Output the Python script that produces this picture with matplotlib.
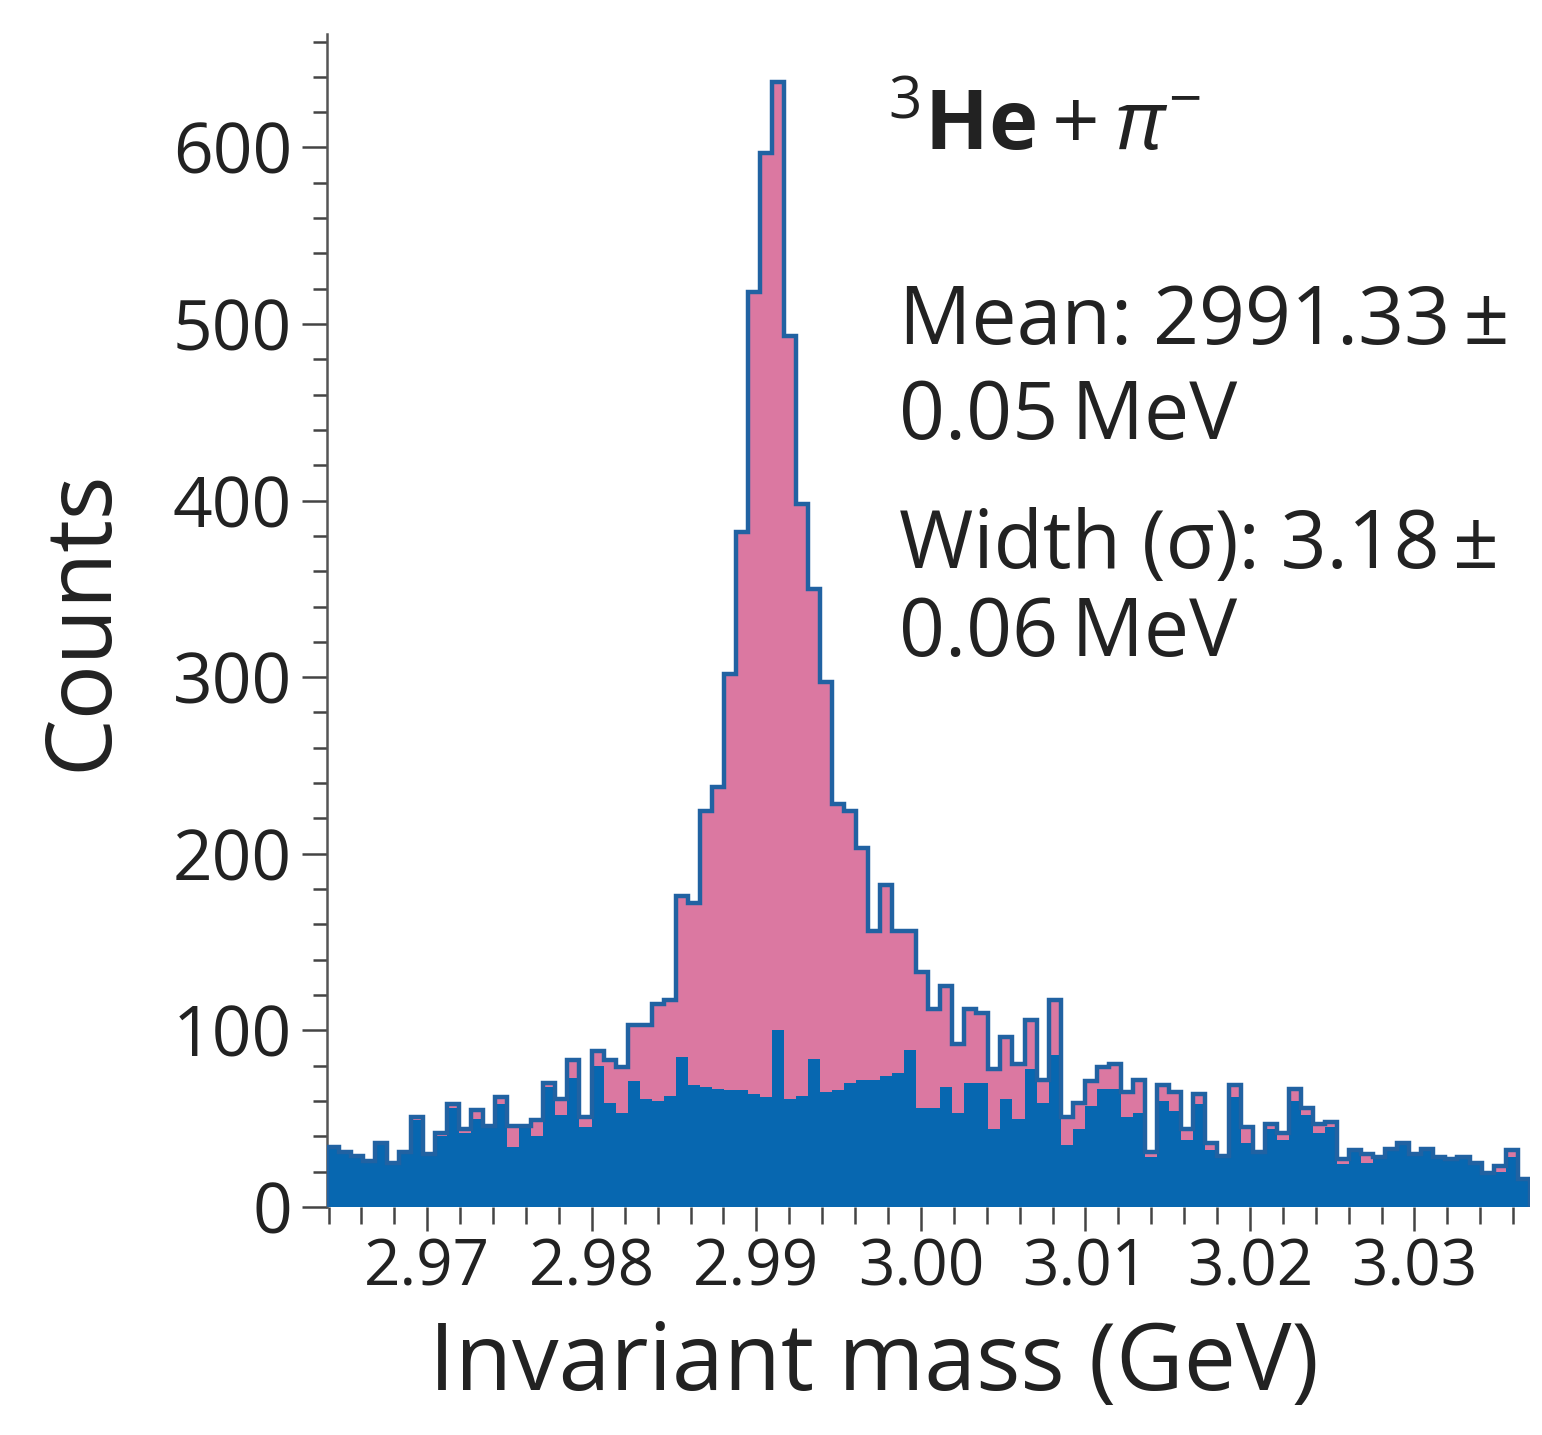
import numpy as np
import matplotlib
matplotlib.use("Agg")
import matplotlib.pyplot as plt
from matplotlib.ticker import MultipleLocator, FormatStrFormatter

plt.rcParams['font.family'] = ['Open Sans', 'DejaVu Sans']
plt.rcParams['mathtext.fontset'] = 'custom'
plt.rcParams['mathtext.rm'] = 'Open Sans'
plt.rcParams['mathtext.it'] = 'Open Sans:italic'
plt.rcParams['mathtext.bf'] = 'Open Sans:bold'

# histogram range (GeV) and 100 bins
mass_lo = 2.9639
mass_hi = 3.0370

# total counts (3He + pi-) per bin
total = [34, 31, 29, 26, 36, 25, 31, 51, 30, 42,
         58, 44, 55, 46, 62, 46, 46, 49, 70, 61,
         83, 51, 88, 83, 79, 103, 103, 115, 117, 176,
         172, 224, 238, 302, 382, 518, 597, 637, 493, 398,
         350, 297, 228, 224, 203, 156, 182, 156, 156, 133,
         112, 125, 92, 112, 110, 78, 96, 81, 106, 72,
         117, 51, 59, 71, 79, 81, 65, 72, 31, 69,
         65, 44, 64, 36, 29, 69, 45, 31, 47, 42,
         67, 56, 47, 48, 27, 32, 30, 28, 33, 36,
         30, 33, 28, 27, 28, 25, 19, 23, 32, 16]

# background counts per bin
background = [33, 30, 28, 26, 35, 24, 30, 49, 29, 40,
              56, 42, 50, 45, 58, 34, 45, 40, 68, 52,
              73, 45, 80, 59, 53, 71, 61, 60, 63, 85,
              69, 68, 67, 66, 66, 64, 62, 100, 61, 63,
              84, 65, 66, 70, 72, 72, 74, 76, 89, 56,
              56, 68, 53, 70, 70, 44, 61, 50, 78, 59,
              86, 35, 44, 57, 67, 67, 51, 53, 28, 60,
              54, 38, 58, 32, 28, 62, 36, 30, 44, 38,
              60, 52, 42, 45, 24, 31, 25, 27, 32, 35,
              29, 32, 27, 26, 27, 24, 18, 20, 28, 15]

xticks = [2.97, 2.98, 2.99, 3.00, 3.01, 3.02, 3.03]
yticks = [0, 100, 200, 300, 400, 500, 600]

pink = '#db78a1'
blue = '#0767b0'
edge = '#2162a2'
ink = '#222222'

edges = np.linspace(mass_lo, mass_hi, len(total) + 1)

fig = plt.figure(figsize=(15.42, 14.35), dpi=100)
ax = fig.add_axes([0.212, 0.159, 0.780, 0.817])

ax.stairs(total, edges, fill=True, color=pink, zorder=1)
ax.stairs(background, edges, fill=True, color=blue, zorder=2)
ax.stairs(total, edges, color=edge, lw=3.2, zorder=3)

ax.set_xlim(mass_lo, mass_hi)
ax.set_ylim(0, 664)

for s in ['top', 'right', 'bottom']:
    ax.spines[s].set_visible(False)
ax.spines['left'].set_color('#555555')
ax.spines['left'].set_linewidth(1.8)

ax.set_xticks(xticks)
ax.set_yticks(yticks)
ax.xaxis.set_major_formatter(FormatStrFormatter('%.2f'))
ax.xaxis.set_minor_locator(MultipleLocator(0.002))
ax.yaxis.set_minor_locator(MultipleLocator(20))
ax.tick_params(axis='both', which='both', direction='out', color='#444444', width=1.8,
               labelcolor=ink)
ax.tick_params(axis='y', which='major', length=18, labelsize=50, pad=7)
ax.tick_params(axis='y', which='minor', length=10)
ax.tick_params(axis='x', which='major', length=17, labelsize=46, pad=4)
ax.tick_params(axis='x', which='minor', length=12)

ax.set_ylabel('Counts', fontsize=66, color=ink, labelpad=32)
ax.set_xlabel('Invariant mass (GeV)', fontsize=67, color=ink, labelpad=14)
ax.xaxis.label.set_x(0.455)

fig.text(0.576, 0.896, r'$^{3}\mathbf{He}+\pi^{-}$', fontsize=60, color=ink,
         ha='left', va='baseline')
fig.text(0.583, 0.760, 'Mean: 2991.33\u2009±', fontsize=58, color=ink,
         ha='left', va='baseline')
fig.text(0.583, 0.694, '0.05\u2009MeV', fontsize=58, color=ink,
         ha='left', va='baseline')
fig.text(0.583, 0.604, 'Width (σ): 3.18\u2009±', fontsize=58, color=ink,
         ha='left', va='baseline')
fig.text(0.583, 0.543, '0.06\u2009MeV', fontsize=58, color=ink,
         ha='left', va='baseline')

fig.savefig('out.png', dpi=100)
